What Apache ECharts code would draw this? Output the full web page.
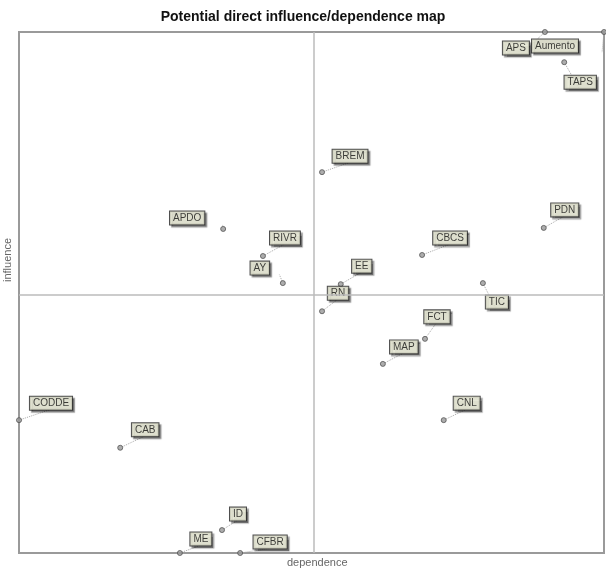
<!DOCTYPE html>
<html><head><meta charset="utf-8">
<script src="https://cdn.jsdelivr.net/npm/echarts@6/dist/echarts.min.js"></script>
<style>html,body{margin:0;padding:0;background:#fff}#c{width:606px;height:571px}</style>
</head><body><div id="c"></div>
<script>
var names = ['APS','Aumento','TAPS','PDN','BREM','APDO','RIVR','AY','EE','RN','CBCS','TIC','FCT','MAP','CNL','CODDE','CAB','ID','ME','CFBR'];
var dependence = [89.9,100,93.2,89.7,51.8,34.9,41.7,45.1,55.0,51.8,68.9,79.3,69.4,62.2,72.6,0,17.3,34.7,27.5,37.8];
var influence = [100,100,94.2,62.4,73.1,62.2,57.0,51.8,51.6,46.4,57.2,51.8,41.1,36.3,25.5,25.5,20.2,4.4,0,0];
var midDependence = 50.3;
var midInfluence = 49.5;
// label layout offsets (pixels), not data
var labelOffsets = [[-29,16],[-49,14],[16,20],[21,-18],[28,-16],[-36,-11],[22,-18],[-23,-15],[21,-18],[16,-18],[28,-17],[14,19],[12,-22],[21,-17],[23,-17],[32,-17],[25,-18],[16,-16],[21,-14],[30,-11]];

var data = names.map(function(n,i){
  return {name:n, value:[dependence[i], influence[i]],
    label:{offset:labelOffsets[i]}};
});
var chart = echarts.init(document.getElementById('c'));
chart.setOption({
  animation:false,
  title:{text:'Potential direct influence/dependence map',left:'center',top:5,
    textStyle:{fontFamily:'Liberation Sans, Arial',fontSize:14,fontWeight:'bold',color:'#111'}},
  grid:{left:19,right:2,top:32,bottom:18,show:true,borderColor:'#9a9a9a',borderWidth:2,backgroundColor:'#fff'},
  xAxis:{type:'value',min:0,max:100,axisLine:{show:false},axisTick:{show:false},axisLabel:{show:false},splitLine:{show:false}},
  yAxis:{type:'value',min:0,max:100,axisLine:{show:false},axisTick:{show:false},axisLabel:{show:false},splitLine:{show:false}},
  graphic:[
    {type:'text',left:287,top:557,style:{text:'dependence',font:'11px Liberation Sans, Arial',fill:'#666'}},
    {type:'text',x:2,y:282,rotation:Math.PI/2,style:{text:'influence',font:'11px Liberation Sans, Arial',fill:'#666'}}
  ],
  series:[{
    type:'scatter',
    symbol:'circle',symbolSize:5,
    itemStyle:{color:'#999',borderColor:'#555',borderWidth:1},
    data:data,
    label:{show:true,position:'inside',formatter:'{b}',
      fontFamily:'Liberation Sans, Arial',fontSize:10,color:'#111',
      backgroundColor:'#ecedd8',borderColor:'#222',borderWidth:1,padding:[2,3,1,3],
      shadowColor:'rgba(0,0,0,0.45)',shadowOffsetX:2,shadowOffsetY:2,shadowBlur:1},
    labelLine:{show:true,lineStyle:{color:'#aaa',type:'dotted',width:1}},
    markLine:{silent:true,symbol:'none',label:{show:false},
      lineStyle:{color:'#bbb',type:'solid',width:1.5},
      data:[{xAxis:midDependence},{yAxis:midInfluence}]}
  }]
});
</script></body></html>
